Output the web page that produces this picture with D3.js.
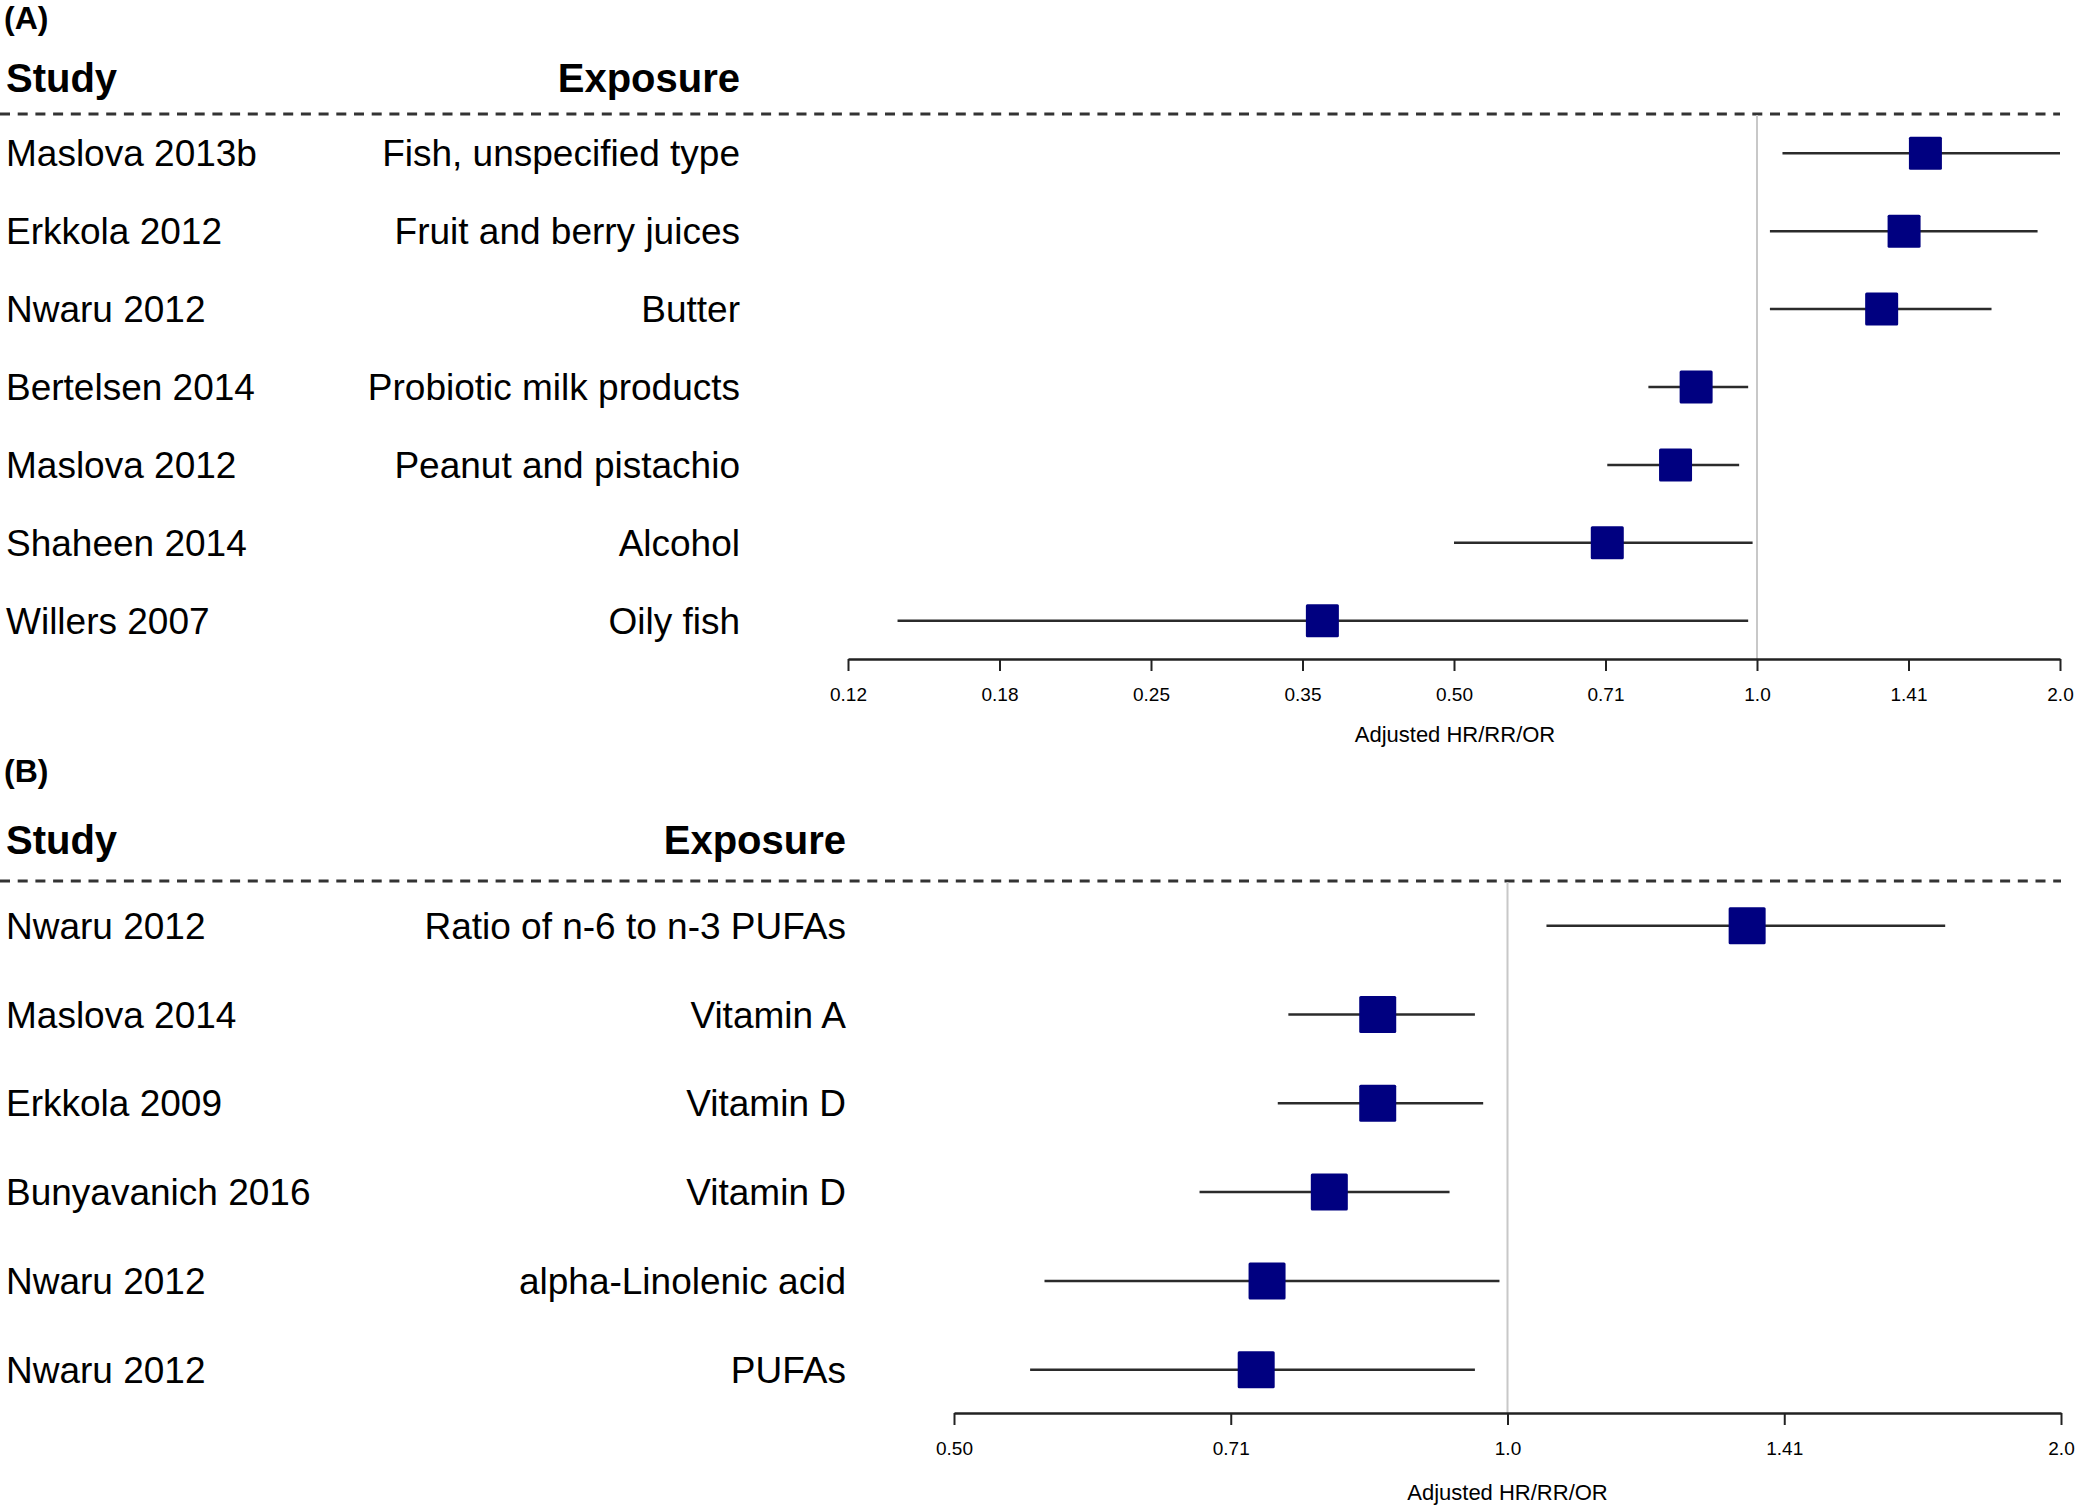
<!DOCTYPE html>
<html>
<head>
<meta charset="utf-8">
<script src="https://cdn.jsdelivr.net/npm/d3@7"></script>
<style>
  html, body { margin: 0; padding: 0; background: #fff; }
  svg { display: block; }
  text { font-family: "Liberation Sans", Arial, Helvetica, sans-serif; fill: #000; }
</style>
</head>
<body>
<svg id="chart" width="2079" height="1511"></svg>
<script>
// ---------------- Panel A data ----------------
const studyA = ["Maslova 2013b", "Erkkola 2012", "Nwaru 2012", "Bertelsen 2014", "Maslova 2012", "Shaheen 2014", "Willers 2007"];
const exposureA = ["Fish, unspecified type", "Fruit and berry juices", "Butter", "Probiotic milk products", "Peanut and pistachio", "Alcohol", "Oily fish"];
const estA = [1.47, 1.40, 1.33, 0.87, 0.83, 0.71, 0.37];
const lowerA = [1.06, 1.03, 1.03, 0.78, 0.71, 0.50, 0.14];
const upperA = [2.00, 1.90, 1.71, 0.98, 0.96, 0.99, 0.98];
const tickValuesA = [0.125, 0.1767767, 0.25, 0.3535534, 0.5, 0.7071068, 1, 1.4142136, 2];
const tickLabelsA = ["0.12", "0.18", "0.25", "0.35", "0.50", "0.71", "1.0", "1.41", "2.0"];

// ---------------- Panel B data ----------------
const studyB = ["Nwaru 2012", "Maslova 2014", "Erkkola 2009", "Bunyavanich 2016", "Nwaru 2012", "Nwaru 2012"];
const exposureB = ["Ratio of n-6 to n-3 PUFAs", "Vitamin A", "Vitamin D", "Vitamin D", "alpha-Linolenic acid", "PUFAs"];
const estB = [1.35, 0.85, 0.85, 0.80, 0.74, 0.73];
const lowerB = [1.05, 0.76, 0.75, 0.68, 0.56, 0.55];
const upperB = [1.73, 0.96, 0.97, 0.93, 0.99, 0.96];
const tickValuesB = [0.5, 0.7071068, 1, 1.4142136, 2];
const tickLabelsB = ["0.50", "0.71", "1.0", "1.41", "2.0"];

const axisTitle = "Adjusted HR/RR/OR";

const svg = d3.select("#chart");

function drawPanel(cfg) {
  const g = svg.append("g");
  const n = cfg.study.length;

  const x = d3.scaleLog().base(2).domain(cfg.domain).range([cfg.x0, cfg.x1]);
  const y = d3.scalePoint().domain(d3.range(n)).range([cfg.yFirst, cfg.yLast]);

  // panel label
  g.append("text")
    .attr("x", 4).attr("y", cfg.labelY)
    .style("font-size", "32px").style("font-weight", "bold")
    .text(cfg.label);

  // headers
  g.append("text")
    .attr("x", 6).attr("y", cfg.headerY)
    .style("font-size", "40px").style("font-weight", "bold")
    .text("Study");
  g.append("text")
    .attr("x", cfg.expX).attr("y", cfg.headerY)
    .attr("text-anchor", "end")
    .style("font-size", "40px").style("font-weight", "bold")
    .text("Exposure");

  // dashed separator
  g.append("line")
    .attr("x1", 0).attr("x2", cfg.x1)
    .attr("y1", cfg.dashY).attr("y2", cfg.dashY)
    .attr("stroke", "#333").attr("stroke-width", 2.8)
    .attr("stroke-dasharray", "10,7.7");

  // reference line at 1.0
  g.append("line")
    .attr("x1", x(1)).attr("x2", x(1))
    .attr("y1", cfg.dashY + 1).attr("y2", cfg.axisY)
    .attr("stroke", "#c8c8c8").attr("stroke-width", 2);

  const rows = g.selectAll("g.row").data(d3.range(n)).join("g").attr("class", "row");

  rows.append("text")
    .attr("x", 6).attr("y", i => y(i) + 13)
    .style("font-size", "37px")
    .text(i => cfg.study[i]);
  rows.append("text")
    .attr("x", cfg.expX).attr("y", i => y(i) + 13)
    .attr("text-anchor", "end")
    .style("font-size", "37px")
    .text(i => cfg.exposure[i]);

  rows.append("line")
    .attr("x1", i => x(cfg.lower[i])).attr("x2", i => x(cfg.upper[i]))
    .attr("y1", i => y(i)).attr("y2", i => y(i))
    .attr("stroke", "#2b2b2b").attr("stroke-width", 2.5);

  rows.append("rect")
    .attr("x", i => x(cfg.est[i]) - cfg.box / 2)
    .attr("y", i => y(i) - cfg.box / 2)
    .attr("width", cfg.box).attr("height", cfg.box)
    .attr("rx", 1.5)
    .attr("fill", "#000080");

  // axis
  const axis = d3.axisBottom(x)
    .tickValues(cfg.ticks)
    .tickFormat((d, i) => cfg.tickLabels[i])
    .tickSizeOuter(0)
    .tickSizeInner(12)
    .tickPadding(17);
  const ag = g.append("g").attr("transform", `translate(0,${cfg.axisY})`).call(axis);
  ag.select(".domain").attr("stroke", "#222").attr("stroke-width", 2.6);
  ag.selectAll(".tick line").attr("stroke", "#222").attr("stroke-width", 2);
  ag.selectAll(".tick text")
    .style("font-family", "'Liberation Sans', Arial, sans-serif")
    .style("font-size", "19px").attr("fill", "#111");

  g.append("text")
    .attr("x", x(1) - (cfg.titleShift || 0)).attr("y", cfg.titleY)
    .attr("text-anchor", "middle")
    .style("font-size", "22px").attr("fill", "#111")
    .text(axisTitle);
}

drawPanel({
  label: "(A)", labelY: 29, headerY: 92, dashY: 114,
  study: studyA, exposure: exposureA, est: estA, lower: lowerA, upper: upperA,
  domain: [0.125, 2], x0: 848, x1: 2060, expX: 740,
  yFirst: 153.3, yLast: 620.7, box: 33,
  axisY: 659, ticks: tickValuesA, tickLabels: tickLabelsA,
  titleY: 742, titleShift: 302
});

drawPanel({
  label: "(B)", labelY: 782, headerY: 854, dashY: 881,
  study: studyB, exposure: exposureB, est: estB, lower: lowerB, upper: upperB,
  domain: [0.5, 2], x0: 954, x1: 2061, expX: 846,
  yFirst: 925.7, yLast: 1369.7, box: 37,
  axisY: 1413, ticks: tickValuesB, tickLabels: tickLabelsB,
  titleY: 1500, titleShift: 0
});
</script>
</body>
</html>
